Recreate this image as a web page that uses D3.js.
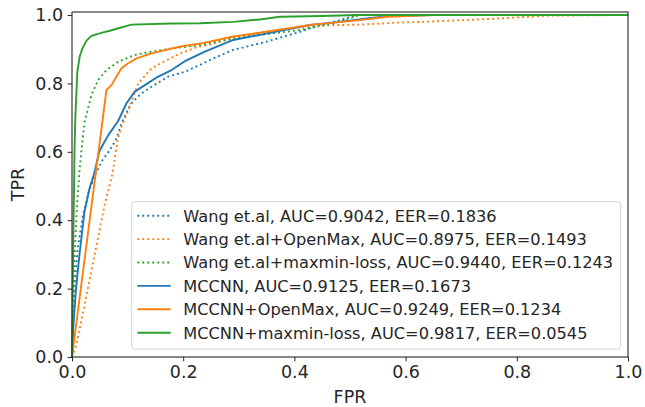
<!DOCTYPE html>
<html>
<head>
<meta charset="utf-8">
<script src="https://cdn.jsdelivr.net/npm/d3@7"></script>
<style>
  body { margin: 0; background: #fff; }
  text { font-family: "DejaVu Sans", sans-serif; fill: #262626; }
</style>
</head>
<body>
<div id="chart"></div>
<script>
// ROC points
var wangFpr = [0, .001, .004, .010, .019, .031, .043, .055, .068, .079, .089, .101, .107, .125, .143, .173, .203, .23, .254, .29, .35, .41, .446, .482, .512, 1];
var wangTpr = [0, .03, .196, .313, .41, .488, .537, .576, .605, .635, .683, .725, .742, .771, .79, .82, .834, .854, .873, .898, .922, .951, .971, .985, 1, 1];

var wangOmFpr = [0, .007, .022, .034, .046, .058, .073, .082, .089, .101, .119, .143, .167, .191, .221, .25, .29, .35, .44, .518, .59, .65, .77, .854, 1];
var wangOmTpr = [0, .03, .147, .245, .342, .44, .537, .635, .673, .72, .8, .844, .865, .885, .904, .915, .932, .952, .969, .972, .978, .981, .99, .998, 1];

var wangMmFpr = [0, .0024, .004, .006, .009, .013, .019, .023, .035, .047, .062, .083, .113, .143, .179, .23, .29, .41, .47, .518, 1];
var wangMmTpr = [0, .147, .245, .342, .44, .537, .635, .69, .766, .81, .839, .863, .883, .893, .902, .912, .932, .956, .975, 1, 1];

var mccFpr = [0, .0024, .007, .013, .022, .031, .040, .049, .057, .065, .083, .098, .113, .131, .155, .179, .203, .239, .29, .35, .428, .482, .53, .572, .65, 1];
var mccTpr = [0, .089, .196, .293, .42, .49, .537, .6, .625, .648, .69, .742, .776, .795, .82, .839, .865, .893, .927, .946, .971, .98, .99, .997, 1, 1];

var mccOmFpr = [0, .062, .071, .080, .089, .101, .116, .143, .179, .203, .233, .29, .35, .428, .518, .566, .65, 1];
var mccOmTpr = [0, .781, .795, .82, .844, .859, .873, .888, .902, .91, .917, .937, .951, .971, .985, .995, 1, 1];

var mccMmFpr = [0, .002, .0045, .006, .0096, .014, .019, .026, .035, .056, .068, .085, .107, .18, .23, .29, .338, .374, .45, .512, 1];
var mccMmTpr = [0, .3, .6, .7, .834, .88, .903, .925, .939, .949, .954, .962, .972, .975, .976, .98, .987, .995, .997, 1, 1];

var labels = [
    'Wang et.al, AUC=0.9042, EER=0.1836',
    'Wang et.al+OpenMax, AUC=0.8975, EER=0.1493',
    'Wang et.al+maxmin-loss, AUC=0.9440, EER=0.1243',
    'MCCNN, AUC=0.9125, EER=0.1673',
    'MCCNN+OpenMax, AUC=0.9249, EER=0.1234',
    'MCCNN+maxmin-loss, AUC=0.9817, EER=0.0545'
];
var xTicks = [0, 0.2, 0.4, 0.6, 0.8, 1.0];
var yTicks = [0, 0.2, 0.4, 0.6, 0.8, 1.0];

var blue = '#1f77b4', orange = '#ff7f0e', green = '#2ca02c';
var series = [
    {fpr: wangFpr, tpr: wangTpr, color: blue, dotted: true},
    {fpr: wangOmFpr, tpr: wangOmTpr, color: orange, dotted: true},
    {fpr: wangMmFpr, tpr: wangMmTpr, color: green, dotted: true},
    {fpr: mccFpr, tpr: mccTpr, color: blue, dotted: false},
    {fpr: mccOmFpr, tpr: mccOmTpr, color: orange, dotted: false},
    {fpr: mccMmFpr, tpr: mccMmTpr, color: green, dotted: false}
];
series.forEach(function (s, i) {
    s.label = labels[i];
    s.points = s.fpr.map(function (f, j) { return [f, s.tpr[j]]; });
});

var margin = {top: 12, right: 17, bottom: 50, left: 72},
    width = 645 - margin.left - margin.right,
    height = 407 - margin.top - margin.bottom;

var x = d3.scaleLinear().domain([0, 1]).range([0, width]);
var y = d3.scaleLinear().domain([0, 1.00877]).range([height, 0]);

var svg = d3.select("#chart").append("svg")
    .attr("width", 645)
    .attr("height", 407)
    .append("g")
    .attr("transform", "translate(" + margin.left + "," + margin.top + ")");

svg.append("defs").append("clipPath")
    .attr("id", "clip")
    .append("rect")
    .attr("x", -2).attr("y", 0)
    .attr("width", width + 2).attr("height", height + 2);

var line = d3.line()
    .x(function (d) { return x(d[0]); })
    .y(function (d) { return y(d[1]); });

var plot = svg.append("g").attr("clip-path", "url(#clip)");
plot.selectAll(".roc")
    .data(series)
    .enter().append("path")
    .attr("class", "roc")
    .attr("d", function (d) { return line(d.points); })
    .attr("fill", "none")
    .attr("stroke", function (d) { return d.color; })
    .attr("stroke-width", 1.9)
    .attr("stroke-dasharray", function (d) { return d.dotted ? "1.9,3.1" : null; })
    .attr("stroke-linejoin", "round");

// axes
var xAxis = d3.axisBottom(x).tickValues(xTicks).tickFormat(d3.format(".1f"))
    .tickSize(4.4).tickPadding(4.4).tickSizeOuter(0);
var yAxis = d3.axisLeft(y).tickValues(yTicks).tickFormat(d3.format(".1f"))
    .tickSize(4.4).tickPadding(4.4).tickSizeOuter(0);

var gx = svg.append("g")
    .attr("transform", "translate(0," + height + ")")
    .call(xAxis);
var gy = svg.append("g").call(yAxis);
[gx, gy].forEach(function (g) {
    g.select(".domain").remove();
    g.selectAll("line").attr("stroke", "#262626").attr("stroke-width", 1);
    g.selectAll("text").attr("font-size", 17.5).attr("font-family", "DejaVu Sans").attr("fill", "#262626");
});

// frame
svg.append("rect")
    .attr("width", width).attr("height", height)
    .attr("fill", "none")
    .attr("stroke", "#262626")
    .attr("stroke-width", 1.1);

svg.append("text")
    .attr("x", width / 2)
    .attr("y", 391)
    .attr("text-anchor", "middle")
    .attr("font-size", 17.5)
    .text("FPR");
svg.append("text")
    .attr("transform", "translate(" + (23.5 - margin.left) + "," + (height / 2) + ") rotate(-90)")
    .attr("text-anchor", "middle")
    .attr("font-size", 17.5)
    .text("TPR");

// legend
var legend = svg.append("g").attr("transform", "translate(" + (131.7 - margin.left) + "," + (201.7 - margin.top) + ")");
legend.append("rect")
    .attr("width", 489).attr("height", 147.3)
    .attr("rx", 3).attr("ry", 3)
    .attr("fill", "#fff").attr("fill-opacity", 0.8)
    .attr("stroke", "#d4d4d4").attr("stroke-width", 1);
var rows = legend.selectAll(".row")
    .data(series)
    .enter().append("g")
    .attr("class", "row")
    .attr("transform", function (d, i) { return "translate(0," + (14 + i * 23.4) + ")"; });
rows.append("line")
    .attr("x1", 5.6).attr("x2", 39)
    .attr("stroke", function (d) { return d.color; })
    .attr("stroke-width", 1.9)
    .attr("stroke-dasharray", function (d) { return d.dotted ? "1.9,3.1" : null; });
rows.append("text")
    .attr("x", 51.6)
    .attr("dy", "0.36em")
    .attr("font-size", 16.2)
    .text(function (d) { return d.label; });
</script>
</body>
</html>
